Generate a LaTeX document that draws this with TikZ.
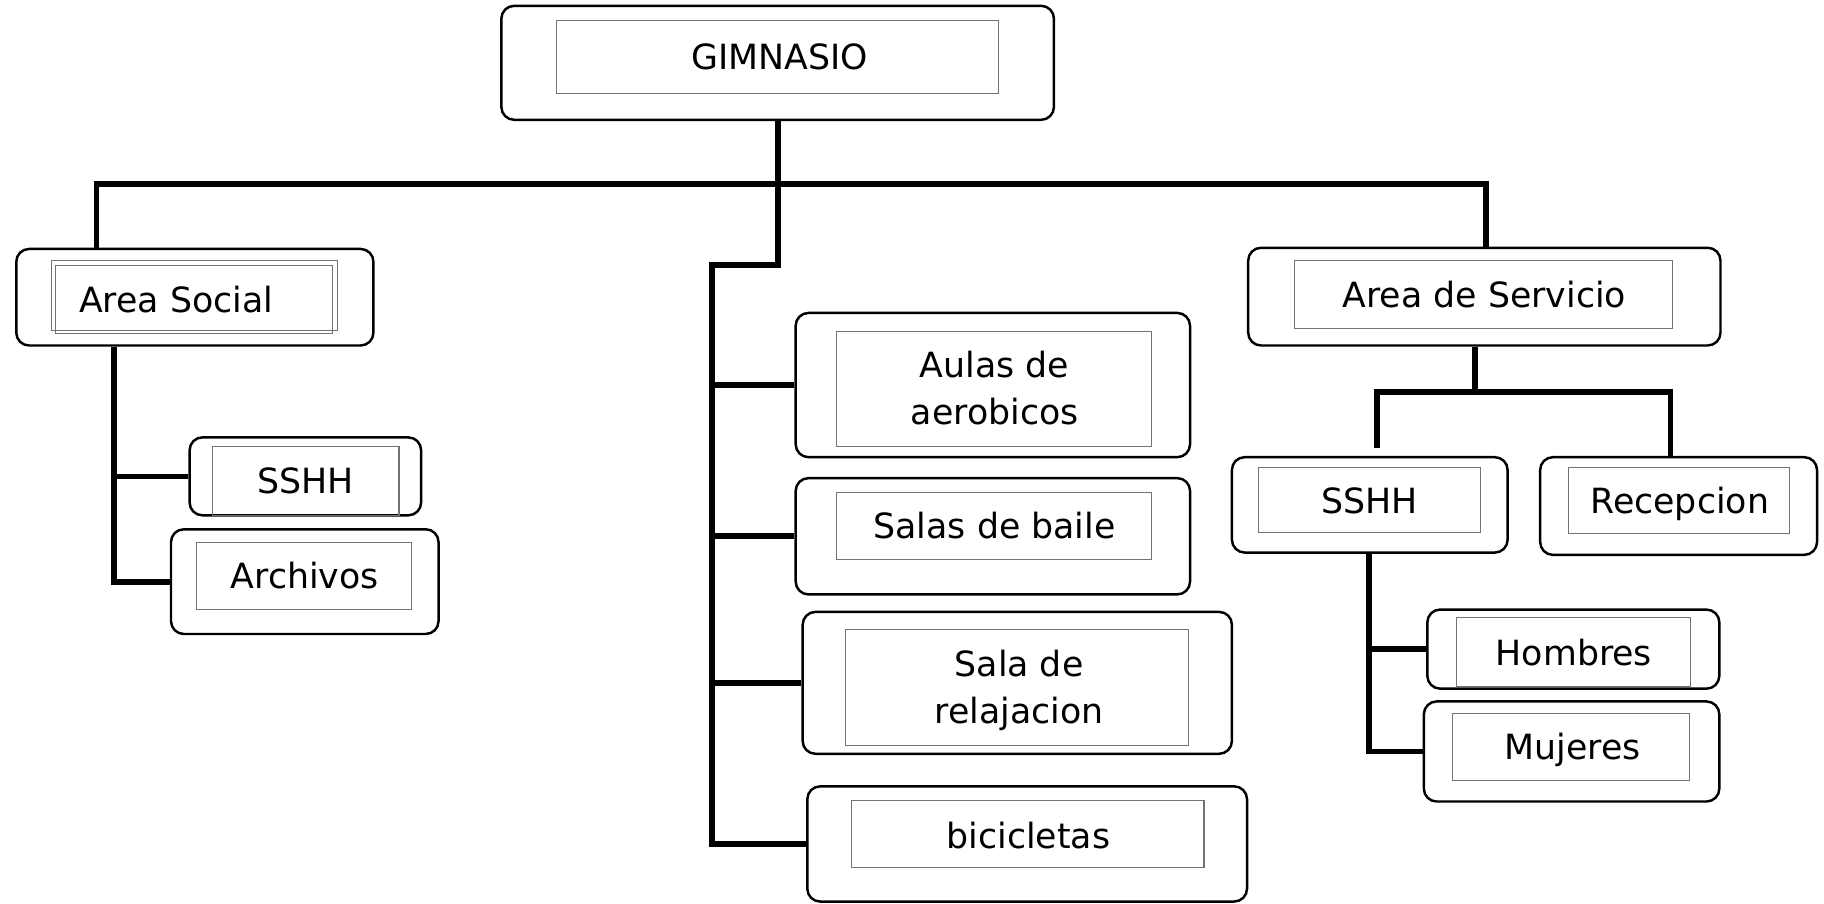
\documentclass[tikz,border=0pt]{standalone}
\usepackage{fontspec}
\setmainfont{DejaVu Sans}
\usetikzlibrary{fit}
\tikzset{
  obox/.style={draw=black, line width=1.2pt, rounded corners=0.22cm, inner sep=0pt, fill=white},
  ibox/.style={draw=black!55, line width=0.5pt, inner sep=0pt},
  lbl/.style={font=\fontsize{17}{23.3}\selectfont, inner sep=0pt, anchor=base, align=center},
  lbl2/.style={font=\fontsize{17}{23.3}\selectfont, inner sep=0pt, anchor=center, align=center},
  conn/.style={line width=2.8pt, line join=miter}
}
\begin{document}
\begin{tikzpicture}[x=0.02cm, y=-0.02cm]
\useasboundingbox (0,0) rectangle (1568,777);

% GIMNASIO
\node[obox, fit={(431,5)(906,103)}] (gO) {};
\node[ibox, fit={(478,18)(858,80)}] (gI) {};
\node[lbl] (g) at (670,60) {GIMNASIO};

% Area Social
\node[obox, fit={(14,214)(321,297)}] (asO) {};
\node[ibox, fit={(44.6,224)(290,284)}] (asI) {};
\node[ibox, fit={(47.3,228)(286,287)}] (asI2) {};
\node[lbl] (as) at (151.5,269) {Area Social};

% SSHH left
\node[obox, fit={(163,376)(362,443)}] (shlO) {};
\node[ibox, fit={(183,384)(343,443)}] (shlI) {};
\node[lbl] (shl) at (262.5,424) {SSHH};

% Archivos
\node[obox, fit={(147,455)(377,545)}] (arcO) {};
\node[ibox, fit={(169,466)(354,524)}] (arcI) {};
\node[lbl] (arc) at (262,506) {Archivos};

% Aulas de aerobicos
\node[obox, fit={(684,269)(1023,393)}] (aulO) {};
\node[ibox, fit={(719,285)(990,384)}] (aulI) {};
\node[lbl2] (aul) at (855,333.5) {Aulas de\\aerobicos};

% Salas de baile
\node[obox, fit={(684,411)(1023,511)}] (salO) {};
\node[ibox, fit={(719,423)(990,481)}] (salI) {};
\node[lbl] (sal) at (855,463) {Salas de baile};

% Sala de relajacion
\node[obox, fit={(690,526)(1059,648)}] (relO) {};
\node[ibox, fit={(727,541)(1022,641)}] (relI) {};
\node[lbl2] (rel) at (876,593.5) {Sala de\\relajacion};

% bicicletas
\node[obox, fit={(694,676)(1072,775)}] (bicO) {};
\node[ibox, fit={(732,688)(1035,746)}] (bicI) {};
\node[lbl] (bic) at (884,729) {bicicletas};

% Area de Servicio
\node[obox, fit={(1073,213)(1479,297)}] (adsO) {};
\node[ibox, fit={(1113,224)(1438,282)}] (adsI) {};
\node[lbl] (ads) at (1276,264) {Area de Servicio};

% SSHH right
\node[obox, fit={(1059,393)(1296,475)}] (shrO) {};
\node[ibox, fit={(1082,402)(1273,458)}] (shrI) {};
\node[lbl] (shr) at (1177.5,441) {SSHH};

% Recepcion
\node[obox, fit={(1324,393)(1562,477)}] (recO) {};
\node[ibox, fit={(1348,402)(1538,459)}] (recI) {};
\node[lbl] (rec) at (1444,441) {Recepcion};

% Hombres
\node[obox, fit={(1227,524)(1478,592)}] (homO) {};
\node[ibox, fit={(1252,531)(1453,590)}] (homI) {};
\node[lbl] (hom) at (1353,572) {Hombres};

% Mujeres
\node[obox, fit={(1224,603)(1478,689)}] (mujO) {};
\node[ibox, fit={(1249,613)(1452,671)}] (mujI) {};
\node[lbl] (muj) at (1352,653) {Mujeres};

% connectors: top level
\coordinate (jL) at (83,158);
\coordinate (jR) at (1277.5,158);
\draw[conn] (jL |- asO.north) -- (jL) -- (jR) -- (jR |- adsO.north);

% central trunk
\coordinate (kink) at (668.5,228);
\coordinate (spine) at (612,228);
\draw[conn] (gO.south) -- (kink) -- (spine) -- (spine |- bicO.west) -- (bicO.west);
\foreach \b in {aulO, salO, relO} \draw[conn] (spine |- \b.west) -- (\b.west);

% left
\coordinate (lsp) at (98,297);
\draw[conn] (lsp |- asO.south) -- (lsp |- arcO.west) -- (arcO.west);
\draw[conn] (lsp |- shlO.west) -- (shlO.west);

% right
\coordinate (rsp) at (1268,337);
\coordinate (rL) at (1184,337);
\coordinate (rR) at (1436,337);
\coordinate (rLend) at (1184,385);
\draw[conn] (rsp |- adsO.south) -- (rsp);
\draw[conn] (rLend) -- (rL) -- (rR) -- (rR |- recO.north);

\coordinate (ssp) at (1177,475);
\draw[conn] (ssp |- shrO.south) -- (ssp |- mujO.west) -- (mujO.west);
\draw[conn] (ssp |- homO.west) -- (homO.west);
\end{tikzpicture}
\end{document}
